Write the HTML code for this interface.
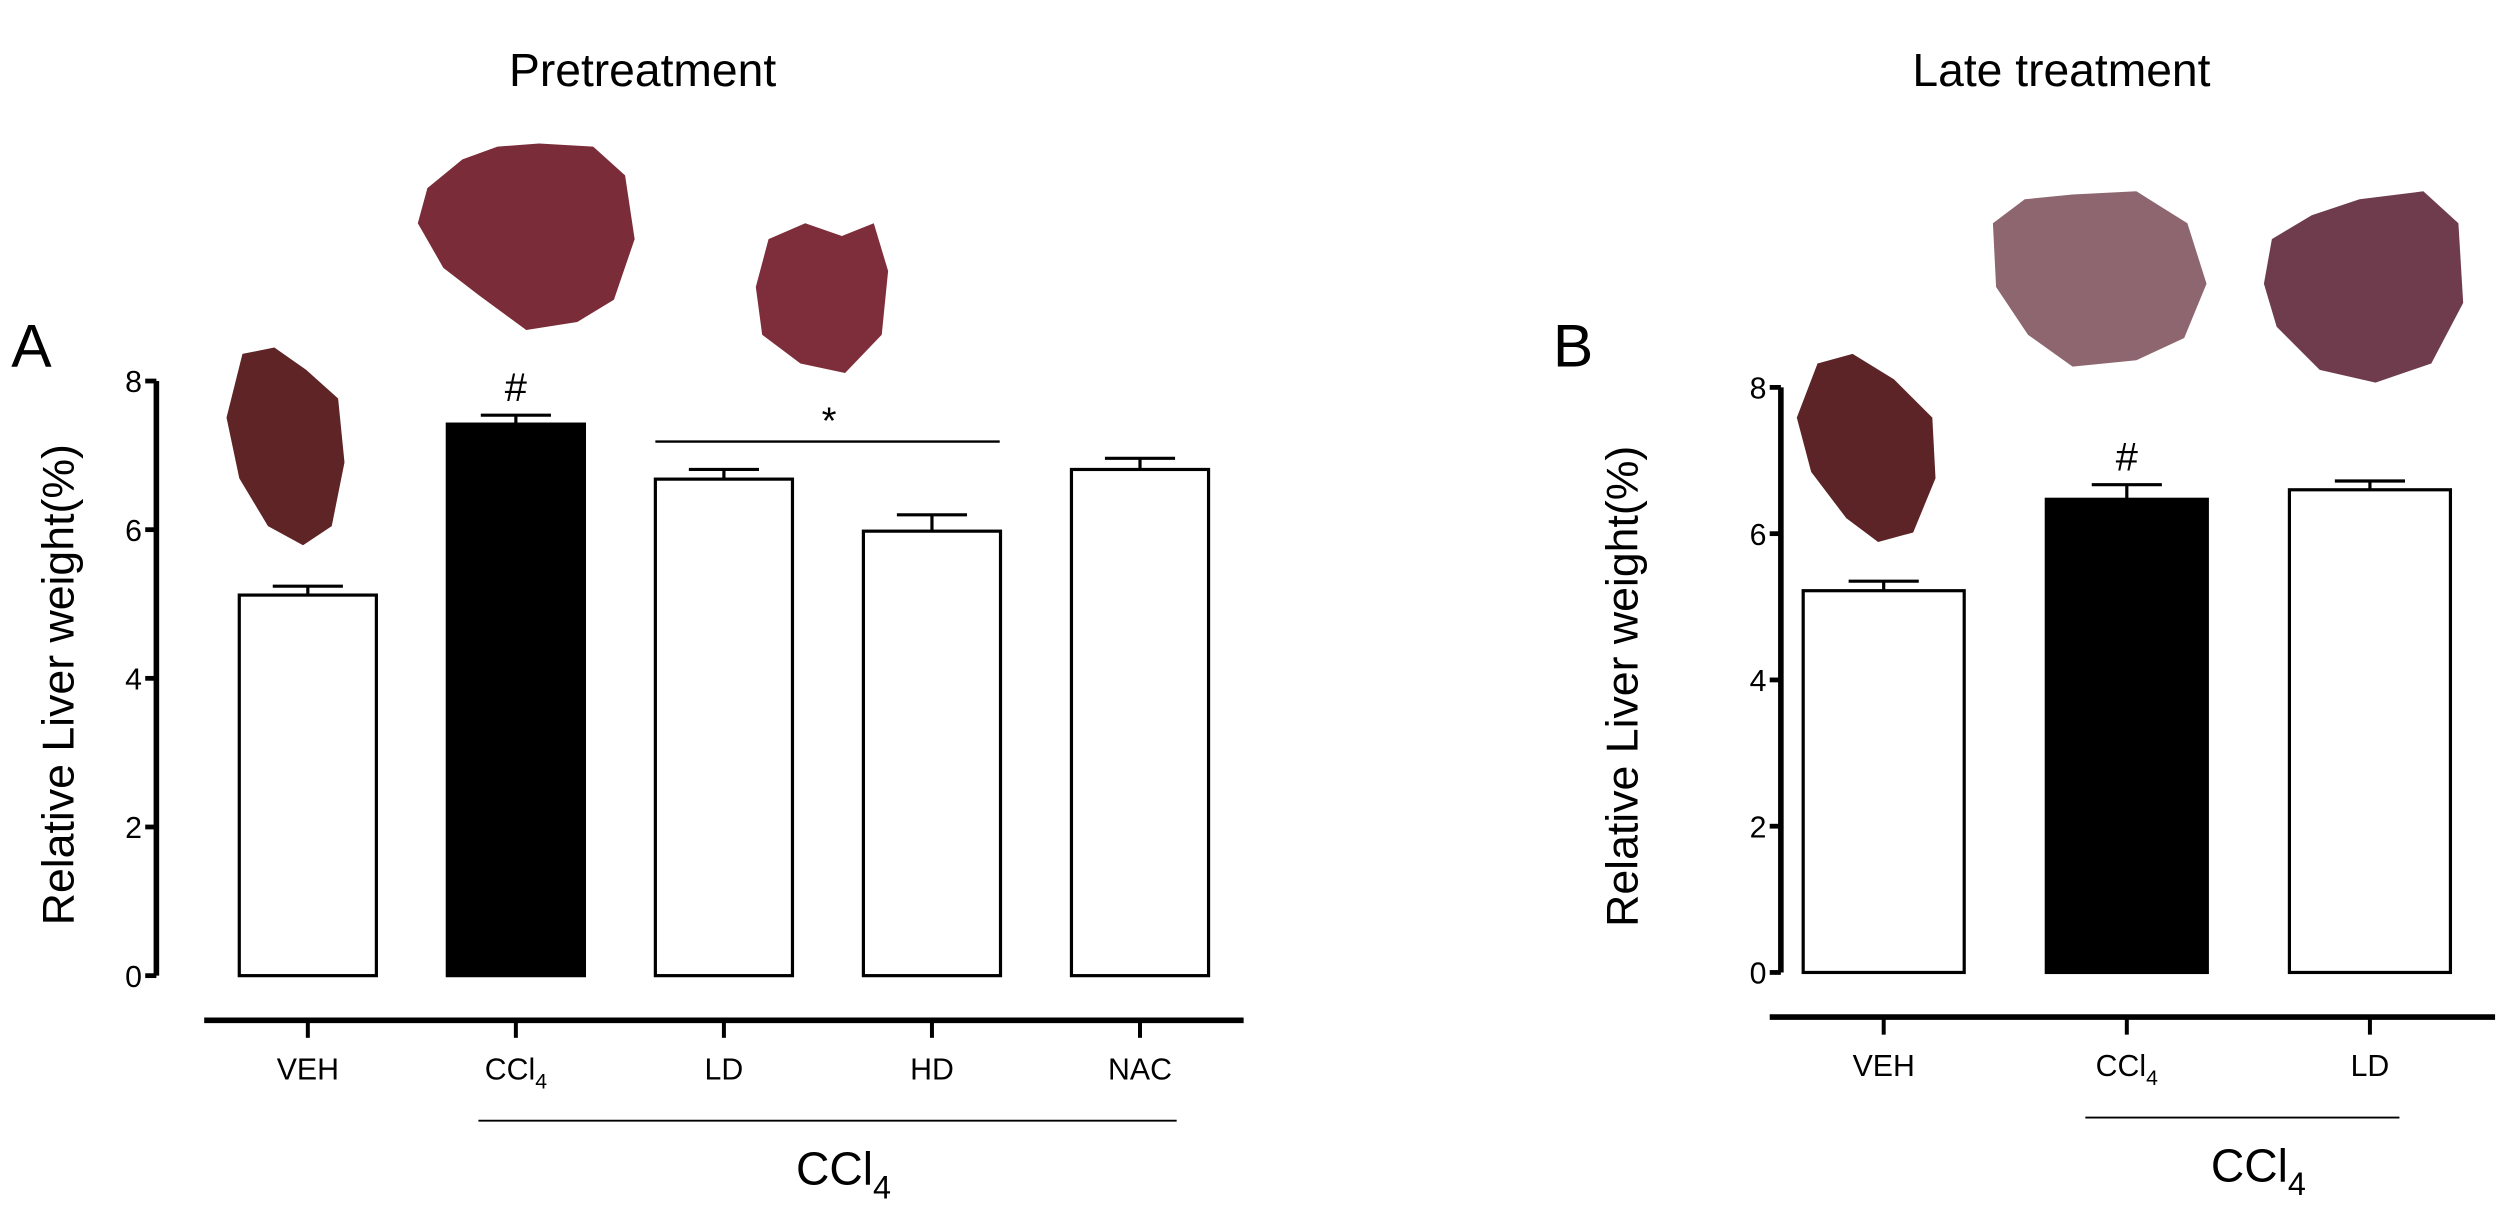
<!DOCTYPE html>
<html><head><meta charset="utf-8"><style>
html,body{margin:0;padding:0;background:#fff}
svg{display:block}
text{font-family:"Liberation Sans",Arial,sans-serif;fill:#000}
</style></head><body>
<svg id="fig" width="2500" height="1210" viewBox="0 0 1568 759" xmlns="http://www.w3.org/2000/svg">
<g id="livers">
<path d="M152,222 L172,218 L192,232 L212,250 L216,290 L208,330 L190,342 L168,330 L150,300 L142,262 Z" fill="#5e2426"/>
<path d="M268,118 L290,100 L312,92 L338,90 L372,92 L392,110 L398,150 L385,188 L362,202 L330,207 L300,185 L278,168 L262,140 Z" fill="#7a2c38"/>
<path d="M482,150 L505,140 L528,148 L548,140 L557,170 L553,210 L530,234 L502,228 L478,210 L474,180 Z" fill="#7e2e3a"/>
<path d="M1140,228 L1162,222 L1188,238 L1212,262 L1214,300 L1200,334 L1178,340 L1158,325 L1136,296 L1127,262 Z" fill="#5c2426"/>
<path d="M1250,140 L1270,125 L1300,122 L1340,120 L1372,140 L1384,178 L1370,212 L1340,226 L1300,230 L1272,210 L1252,180 Z" fill="#8e6670"/>
<path d="M1425,150 L1450,135 L1480,125 L1520,120 L1542,140 L1545,190 L1525,228 L1490,240 L1455,232 L1428,205 L1420,178 Z" fill="#6e3c4c"/>
</g>
<g id="panelA"></g>
<g id="panelB"></g>
</svg>
<script>
const catsA = ["VEH","CCl4","LD","HD","NAC"];
const valsA = [5.12, 7.42, 6.68, 5.98, 6.81];
const errsA = [0.12, 0.12, 0.13, 0.22, 0.15];
const fillA = ["#fff","#000","#fff","#fff","#fff"];
const catsB = ["VEH","CCl4","LD"];
const valsB = [5.22, 6.47, 6.60];
const errsB = [0.13, 0.20, 0.12];
const fillB = ["#fff","#000","#fff"];
const yTicks = [0,2,4,6,8];
const NS = "http://www.w3.org/2000/svg";
function mk(parent, tag, attrs, txt){
  const e=document.createElementNS(NS,tag);
  for(const k in attrs) e.setAttribute(k,attrs[k]);
  if(txt!==undefined) e.textContent=txt;
  parent.appendChild(e); return e;
}
function label(g,x,y,t,size,anchor){
  const e=mk(g,"text",{x:x,y:y,"font-size":size,"text-anchor":anchor||"middle"});
  if(t==="CCl4"){ e.textContent="CCl"; mk(e,"tspan",{"font-size":size*0.7,dy:size*0.3},"4"); }
  else e.textContent=t;
  return e;
}
function panel(g, o){
  const yS = v => o.y0 - v*(o.y0-o.y8)/8;
  const xC = i => o.x0 + o.barW/2 + i*o.step;
  let t=label(g,o.titleX,54,o.title,29);
  
  
  t=label(g,o.letterX,230,o.letter,38,"start");
  
  
  let ax=mk(g,"line",{x1:o.ax,y1:o.y8,x2:o.ax,y2:o.y0,stroke:"#000","stroke-width":3.5});
  
  
  yTicks.forEach(v=>{
    const tk=mk(g,"line",{x1:o.ax-7,y1:yS(v),x2:o.ax,y2:yS(v),stroke:"#000","stroke-width":3});
    
    
    const tl=label(g,o.ax-9,yS(v)+7,String(v),19,"end");
    
    
  });
  const yl=mk(g,"text",{x:0,y:0,"font-size":28,"text-anchor":"middle",transform:`translate(${o.ylX},${(o.y0+o.y8)/2+4}) rotate(-90)`},"Relative Liver weight(%)");
  
  
  o.vals.forEach((v,i)=>{
    const x=o.x0+i*o.step;
    const b=mk(g,"rect",{x:x,y:yS(v),width:o.barW,height:o.y0-yS(v),fill:o.fill[i],stroke:"#000","stroke-width":2});
    
    
    const cx=xC(i), ye=yS(v+o.errs[i]);
    const e1=mk(g,"path",{d:`M${cx},${yS(v)} L${cx},${ye} M${cx-22},${ye} L${cx+22},${ye}`,stroke:"#000","stroke-width":2,fill:"none"});
    
    
    const ct=mk(g,"line",{x1:cx,y1:o.base,x2:cx,y2:o.base+11,stroke:"#000","stroke-width":2.5});
    
    
    const cl=label(g,cx,o.base+37,o.cats[i],19);
    
    
  });
  const bl=mk(g,"line",{x1:o.baseX1,y1:o.base,x2:o.baseX2,y2:o.base,stroke:"#000","stroke-width":3.5});
  
  
  const br=mk(g,"line",{x1:o.brX1,y1:o.base+63,x2:o.brX2,y2:o.base+63,stroke:"#000","stroke-width":1.2});
  
  
  const gl=label(g,(o.brX1+o.brX2)/2+10,o.base+103,"CCl4",29);
  
  
  const h=label(g,xC(1),yS(o.vals[1]+o.errs[1])-9,"#",25);
  
  
  return {yS,xC};
}
const A=panel(document.getElementById("panelA"),{title:"Pretreatment",titleX:403,letter:"A",letterX:7,ax:98,y0:612,y8:239,x0:150,barW:86,step:130.5,vals:valsA,errs:errsA,fill:fillA,cats:catsA,ylX:46,base:640,baseX1:128,baseX2:780,brX1:300,brX2:738});
const B=panel(document.getElementById("panelB"),{title:"Late treatment",titleX:1293,letter:"B",letterX:974,ax:1117,y0:610,y8:243,x0:1131,barW:101,step:152.5,vals:valsB,errs:errsB,fill:fillB,cats:catsB,ylX:1027,base:638,baseX1:1110,baseX2:1565,brX1:1308,brX2:1505});
const gA=document.getElementById("panelA");
const sl=mk(gA,"line",{x1:411,y1:277,x2:627,y2:277,stroke:"#000","stroke-width":1.5});


const st=mk(gA,"text",{x:520,y:272,"font-size":24,"text-anchor":"middle"},"*");


</script>
</body></html>
